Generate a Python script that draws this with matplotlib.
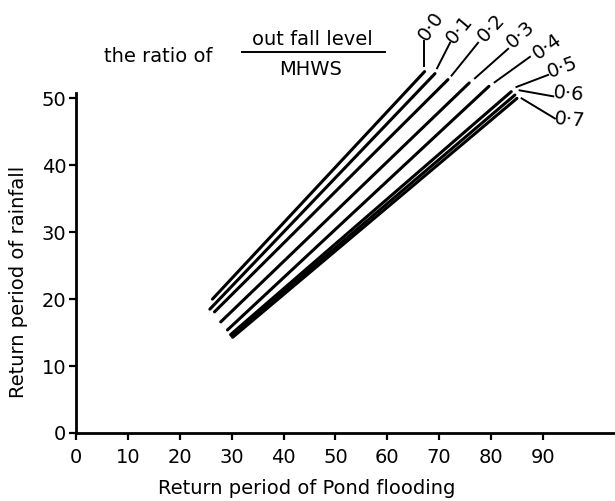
import matplotlib.pyplot as plt
from matplotlib.lines import Line2D

# Relación nivel de descarga / MHWS
ratios = ['0·0', '0·1', '0·2', '0·3', '0·4', '0·5', '0·6', '0·7']

# Extremos de cada recta (periodo de retorno inundación, periodo de retorno lluvia)
x_start = [26.3, 25.8, 26.7, 27.9, 29.2, 29.8, 30.0, 30.2]
y_start = [20.0, 18.5, 18.1, 16.6, 15.4, 14.7, 14.5, 14.3]
x_end = [67.2, 69.2, 71.7, 75.8, 79.6, 83.9, 84.6, 85.0]
y_end = [54.0, 53.7, 52.8, 52.3, 51.8, 51.0, 50.5, 50.0]

x_ticks = [0, 10, 20, 30, 40, 50, 60, 70, 80, 90]
y_ticks = [0, 10, 20, 30, 40, 50]

# Etiquetas: línea guía (inicio, fin), posición del texto y rotación
leader_start = [(67.1, 54.8), (69.6, 54.5), (72.4, 53.4), (76.9, 53.0),
                (80.7, 52.4), (84.9, 51.7), (85.5, 51.2), (85.9, 50.0)]
leader_end = [(67.1, 58.5), (72.1, 58.3), (77.5, 58.3), (83.3, 57.4),
              (87.5, 56.2), (91.0, 53.5), (92.0, 50.3), (92.3, 47.0)]
label_pos = [(68.5, 60.7), (74.0, 60.2), (80.0, 60.5), (85.6, 59.6),
             (90.8, 57.7), (93.7, 54.6), (95.0, 50.7), (95.2, 46.8)]
label_rot = [55, 50, 47, 42, 35, 20, -5, -5]

fig = plt.figure(figsize=(6.15, 5.01), dpi=100)
ax = fig.add_axes([76 / 615, 68 / 501, 539 / 615, 340 / 501])

for i in range(len(ratios)):
    ax.plot([x_start[i], x_end[i]], [y_start[i], y_end[i]], color='black',
            lw=2.2, solid_capstyle='round', clip_on=False)
    (x0, y0), (x1, y1) = leader_start[i], leader_end[i]
    ax.plot([x0, x1], [y0, y1], color='black', lw=1.4, clip_on=False)
    ax.text(label_pos[i][0], label_pos[i][1], ratios[i], fontsize=14,
            rotation=label_rot[i], rotation_mode='anchor',
            ha='center', va='center')

ax.set_xlim(0, 103.9)
ax.set_ylim(0, 50.8)
ax.set_xticks(x_ticks)
ax.set_yticks(y_ticks)
ax.tick_params(labelsize=14, width=1.6, length=5, direction='out')
ax.tick_params(axis='x', pad=6)
ax.tick_params(axis='y', pad=2)
for side in ['top', 'right']:
    ax.spines[side].set_visible(False)
for side in ['left', 'bottom']:
    ax.spines[side].set_linewidth(2.0)

ax.text(0.428, -0.162, 'Return period of Pond flooding', fontsize=14,
        transform=ax.transAxes, ha='center', va='center')
ax.text(-0.106, 0.444, 'Return period of rainfall', fontsize=14,
        rotation=90, transform=ax.transAxes, ha='center', va='center')

# Encabezado con la fracción
fig.text(158 / 615, 1 - 61.7 / 501, 'the ratio of', fontsize=14,
         ha='center', va='baseline')
fig.text(312.5 / 615, 1 - 45 / 501, 'out fall level', fontsize=14,
         ha='center', va='baseline')
fig.text(310.8 / 615, 1 - 75 / 501, 'MHWS', fontsize=14,
         ha='center', va='baseline')
fig.add_artist(Line2D([241.7 / 615, 385 / 615], [1 - 51.7 / 501, 1 - 51.7 / 501],
                      color='black', lw=1.4))

fig.savefig('out.png', dpi=100)
